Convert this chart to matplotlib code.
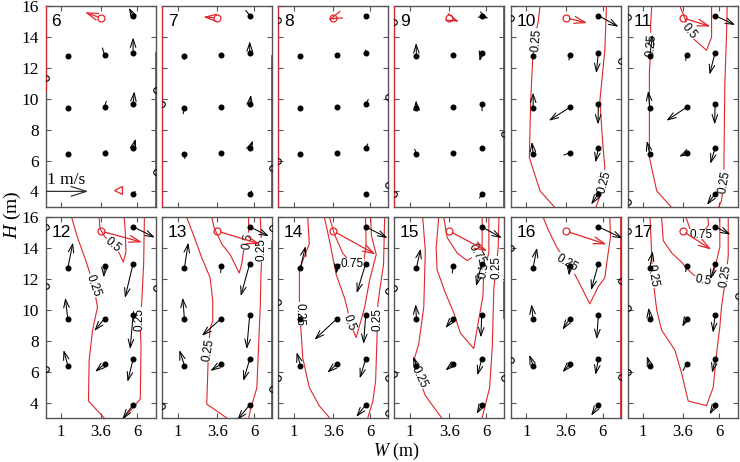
import numpy as np
import matplotlib
matplotlib.use('Agg')
import matplotlib.pyplot as plt
from matplotlib.patches import FancyArrowPatch

plt.rcParams['font.family'] = 'Liberation Serif'
plt.rcParams['mathtext.fontset'] = 'custom'
plt.rcParams['mathtext.it'] = 'Liberation Serif:italic'
plt.rcParams['mathtext.rm'] = 'Liberation Serif'

# ---- data -------------------------------------------------------------
panels = [6, 7, 8, 9, 10, 11, 12, 13, 14, 15, 16, 17]

# measuring points (W, H)
pt_x = [1.45, 3.85, 5.72, 5.72, 1.45, 3.85, 5.72, 1.45, 3.85, 5.72, 5.72]
pt_y = [12.75, 12.85, 13.0, 15.4, 9.4, 9.45, 9.65, 6.4, 6.5, 6.8, 3.85]

# velocity (m/s) at each point, one row per panel
u_vel = [
    [0.0, -0.05, 0.0, -0.1, 0.0, 0.04, 0.03, 0.0, 0.04, 0.06, 0.05],
    [-0.01, 0.0, 0.0, -0.09, -0.03, 0.0, 0.03, 0.01, 0.0, 0.08, 0.05],
    [0.0, 0.0, 0.0, -0.02, 0.0, 0.0, 0.06, 0.0, 0.0, 0.05, 0.0],
    [-0.01, 0.0, -0.05, 0.16, -0.01, 0.0, 0.01, -0.04, 0.0, 0.01, -0.05],
    [0.0, -0.02, -0.05, 0.47, 0.0, -0.49, -0.01, -0.03, -0.14, -0.07, -0.17],
    [0.06, -0.02, -0.13, 0.47, -0.04, -0.47, -0.01, -0.07, -0.17, -0.11, -0.19],
    [0.12, -0.02, -0.19, 0.51, -0.06, -0.24, -0.07, -0.1, -0.22, -0.13, -0.25],
    [0.09, -0.01, -0.21, 0.45, -0.04, -0.45, -0.07, -0.12, -0.25, -0.15, -0.29],
    [0.12, -0.02, -0.21, 0.51, 0.0, -0.53, -0.05, -0.09, -0.23, -0.14, -0.22],
    [0.1, -0.02, -0.13, 0.47, -0.02, -0.18, -0.02, -0.08, -0.18, -0.1, -0.12],
    [0.09, -0.02, -0.17, 0.57, -0.04, -0.17, -0.04, -0.09, -0.17, -0.07, -0.17],
    [0.07, -0.02, -0.11, 0.36, -0.03, -0.1, -0.05, -0.07, -0.08, -0.07, -0.13],
]
v_vel = [
    [0.0, 0.16, 0.35, 0.18, -0.03, 0.14, 0.3, 0.0, 0.05, 0.22, 0.05],
    [-0.07, 0.0, 0.26, 0.12, -0.13, 0.0, 0.22, -0.1, 0.0, 0.18, 0.06],
    [0.0, 0.0, 0.06, 0.02, -0.05, 0.0, 0.11, -0.04, 0.0, 0.1, 0.0],
    [0.31, 0.0, -0.2, -0.07, 0.18, 0.0, -0.15, 0.12, 0.0, 0.04, -0.1],
    [0.02, -0.12, -0.48, -0.26, 0.36, -0.31, -0.47, 0.29, -0.05, -0.33, -0.25],
    [0.5, -0.13, -0.51, -0.22, 0.4, -0.31, -0.47, 0.31, -0.09, -0.36, -0.26],
    [0.58, -0.26, -0.79, -0.25, 0.5, -0.29, -0.78, 0.36, -0.18, -0.52, -0.33],
    [0.58, -0.15, -0.75, -0.22, 0.5, -0.4, -0.78, 0.36, -0.16, -0.5, -0.35],
    [0.5, -0.18, -0.68, -0.26, -0.05, -0.49, -0.66, 0.31, -0.2, -0.44, -0.28],
    [0.44, -0.16, -0.52, -0.26, 0.35, -0.22, -0.51, 0.21, -0.15, -0.37, -0.21],
    [0.46, -0.22, -0.61, -0.27, 0.35, -0.26, -0.55, 0.25, -0.19, -0.36, -0.25],
    [0.38, -0.13, -0.36, -0.18, 0.27, -0.19, -0.4, 0.22, -0.15, -0.31, -0.22],
]

# inlet (red circle) and its velocity
inlet_x = [3.6] * 12
inlet_y = [15.25] * 6 + [15.12] * 6
inlet_u = [-0.37, -0.33, -0.1, 0.23, 0.5, 0.65, 0.97, 1.0, 0.99, 0.89, 0.95, 0.67]
inlet_v = [0.13, 0.02, -0.04, -0.09, -0.12, -0.2, -0.26, -0.3, -0.54, -0.47, -0.31, -0.43]

# iso-lines
contour_panel = [10, 10, 11, 11, 11, 12, 12, 12, 13, 13, 13,
                 14, 14, 14, 14, 15, 15, 15, 15, 16, 17, 17, 17]
contour_xs = [
    [1.9, 1.79, 1.6, 1.42, 1.29, 1.2, 1.9, 2.88],
    [6.25, 6.14, 5.82, 5.99, 6.14, 6.1, 5.71, 5.56],
    [1.57, 1.5, 1.52, 1.42, 1.42, 1.9, 2.88],
    [3.42, 3.75, 4.03, 4.34, 5.16, 5.49, 5.49],
    [6.51, 6.47, 6.36, 6.3, 6.3, 6.14, 5.93],
    [1.7, 2.08, 2.63, 2.95, 3.13, 3.39, 3.06, 2.84, 2.8, 3.83],
    [3.5, 3.55, 3.83, 4.38, 4.81, 5.08, 5.25, 5.21, 5.14],
    [6.46, 6.41, 6.28, 6.17, 6.24, 6.19, 5.14],
    [1.6, 2.03, 2.58, 3.13, 3.3, 3.3, 3.13, 3.02, 2.98, 2.91, 4.22],
    [3.24, 3.39, 3.9, 4.44, 5.03, 5.2, 5.32, 5.58, 5.65, 5.65],
    [6.41, 6.52, 6.46, 6.41, 6.3, 6.19, 5.75, 5.65],
    [1.93, 2.03, 1.6, 1.38, 1.38, 1.38, 1.49, 1.6, 2.03, 2.69, 3.35],
    [3.02, 3.35, 3.79, 4.33, 4.55, 4.66, 5.1, 5.65, 5.97, 6.41, 6.1, 6.04],
    [3.35, 3.68, 4.22, 4.84, 5.58, 5.75, 5.71],
    [6.96, 6.89, 6.63, 6.52, 6.46, 6.37, 6.19, 5.86],
    [1.86, 2.03, 1.93, 1.6, 1.33, 1.6, 2.03, 3.09],
    [2.91, 2.74, 2.8, 3.35, 3.9, 4.33, 5.2, 5.49, 5.8, 5.86, 6.19, 6.19],
    [3.24, 3.46, 4.11, 4.77, 5.43, 5.75, 5.75],
    [6.85, 6.8, 6.67, 6.52, 6.41, 6.24, 5.75],
    [2.11, 2.44, 2.98, 3.64, 4.18, 4.5, 5.16, 5.7, 6.14, 6.36, 6.51, 6.47],
    [1.46, 1.57, 1.6, 1.63, 1.9, 2.22, 3.09, 3.53, 3.96, 5.16, 5.6, 5.82,
     6.03, 6.14, 6.43, 6.58, 6.58],
    [2.22, 2.33, 2.88, 3.53, 3.86, 4.29, 4.95, 5.56, 5.82, 6.03, 6.03],
    [3.82, 4.1, 4.77, 5.29, 5.25],
]
contour_ys = [
    [16, 15.07, 14.1, 12.6, 9.9, 6.2, 4.03, 2.95],
    [16, 13.15, 9.9, 7.3, 5.55, 4.5, 3.38, 2.95],
    [16, 14.8, 13.4, 11.75, 6.2, 4.03, 2.95],
    [16, 15.2, 14.35, 13.86, 13.15, 14.0, 16],
    [16, 14.2, 11.0, 6.0, 4.7, 3.38, 2.95],
    [16, 14.7, 13.2, 12.2, 11.6, 10.2, 8.65, 6.7, 4.1, 3.0],
    [16, 15.3, 14.8, 14.2, 13.7, 13.1, 13.75, 15.05, 16],
    [16, 12.97, 10.37, 9.4, 7.7, 4.23, 3.0],
    [16, 14.9, 13.4, 12.1, 10.6, 9.3, 8.8, 7.4, 6.1, 3.9, 3.0],
    [16, 15.35, 14.27, 13.6, 12.4, 13.0, 13.85, 14.45, 15.14, 16],
    [16, 13.9, 12.3, 10.2, 7.6, 4.97, 3.45, 3.0],
    [16, 14.3, 13.2, 12.55, 10.9, 9.73, 8.65, 6.9, 4.97, 3.78, 3.02],
    [16, 14.5, 12.3, 10.8, 9.95, 9.2, 8.22, 10.17, 11.9, 13.6, 14.8, 16],
    [16, 14.9, 13.68, 12.98, 13.1, 14.2, 16],
    [16, 12.97, 11.24, 10.4, 8.2, 5.4, 4.1, 3.02],
    [16, 13.85, 10.2, 7.8, 6.9, 5.64, 4.45, 3.02],
    [16, 14.05, 12.6, 11.1, 9.8, 8.5, 7.5, 9.17, 10.9, 12.6, 13.7, 16],
    [16, 14.7, 13.7, 13.2, 13.63, 14.2, 16],
    [16, 14.05, 12.75, 11.45, 7.57, 4.97, 3.02],
    [16, 15.2, 14.1, 13.03, 12.3, 11.7, 10.4, 11.5, 12.1, 13.7, 14.7, 16],
    [16, 13.67, 12.7, 12.2, 10.0, 8.7, 7.4, 5.9, 4.1, 3.8, 5.0, 7.2,
     8.9, 10.2, 12.2, 13.5, 16],
    [16, 14.5, 13.7, 13.1, 12.7, 12.3, 11.9, 12.2, 13.2, 14.1, 16],
    [16, 15.2, 14.86, 15.5, 16],
]

label_panel = [10, 10, 11, 11, 11, 12, 12, 12, 13, 13, 13,
               14, 14, 14, 14, 15, 15, 15, 15, 16, 17, 17, 17, 17]
label_x = [1.68, 6.14, 1.57, 4.03, 6.36, 3.13, 4.38, 6.17, 3.02, 5.58, 6.52,
           1.38, 4.66, 4.84, 6.52, 1.6, 5.86, 5.43, 6.67, 3.64, 1.63, 6.43, 4.95, 4.77]
label_y = [13.8, 4.57, 13.5, 14.4, 4.6, 11.6, 14.2, 9.4, 7.4, 14.45, 13.9,
           9.73, 9.2, 12.98, 9.4, 5.64, 12.6, 13.63, 12.75, 13.03, 12.2, 12.2, 11.9, 14.86]
label_text = ['0.25', '0.25', '0.25', '0.5', '0.25', '0.25', '0.5', '0.25', '0.25', '0.5', '0.25',
              '0.25', '0.5', '0.75', '0.25', '0.25', '0.5', '0.75', '0.25', '0.25', '0.25', '0.25',
              '0.5', '0.75']
label_rot = [85, 75, 85, -50, 80, -70, -40, 90, 80, 80, 90,
             -90, -70, 0, 90, -65, 80, -60, 90, -30, -80, 80, -10, 0]

# iso-lines lying on the side walls
wall_panel = [6, 6, 7, 7, 8, 9, 9, 10, 13, 15, 16]
wall_x = [0, 7.2, 0, 7.2, 0, 0, 7.2, 0, 7.2, 7.2, 7.2]
wall_y0 = [10.5, 3, 3, 3, 3, 3, 3, 3, 3, 9.5, 3]
wall_y1 = [16, 13, 16, 12.8, 16, 16, 16, 16, 14.5, 11.8, 16]

# clipped labels on the walls
edge_panel = [6, 6, 6, 7, 7, 8, 8, 8, 8, 9, 9, 9, 10, 10, 11, 11,
              12, 12, 12, 12, 13, 13, 13, 14, 14, 14, 14, 14,
              15, 15, 15, 16, 16, 16, 16, 17, 17, 17, 17]
edge_x = [0, 7.2, 7.2, 0, 7.2, 0, 0, 7.2, 7.2, 0, 0, 7.2, 0, 7.2, 0, 0,
          0, 0, 0, 7.2, 0, 7.2, 7.2, 0, 0, 7.2, 7.2, 7.2,
          0, 0, 7.2, 0, 0, 7.2, 7.2, 0, 0, 0, 7.2]
edge_y = [11.35, 10.6, 5.27, 9.68, 5.5, 15.1, 6.0, 10.1, 4.4, 15.0, 3.85, 7.72, 15.27, 12.44, 15.3, 3.3,
          15.36, 11.57, 6.2, 11.43, 3.8, 4.86, 15.3, 10.5, 5.62, 11.25, 5.6, 3.3,
          11.4, 5.84, 5.6, 14.0, 6.75, 11.9, 5.66, 15.1, 10.1, 6.0, 10.9]

ref_speed = 1.0
S = 2.8  # data units per 1 m/s
red = '#e0262a'

# ---- figure -----------------------------------------------------------
fig = plt.figure(figsize=(7.4, 4.62), dpi=100)
lefts = [45.7, 162.3, 278.3, 394.3, 511.0, 627.7]
W_px, H_px = 740.0, 462.0
axes = {}
for k, p in enumerate(panels):
    col = k % 6
    row = k // 6
    top = 6.3 if row == 0 else 217.5
    ax = fig.add_axes([lefts[col] / W_px, 1 - (top + 200.5) / H_px, 110 / W_px, 200.5 / H_px])
    axes[p] = ax
    ax.set_xlim(0, 7.2)
    ax.set_ylim(3, 16)
    ax.set_xticks([1, 3.6, 6])
    ax.set_yticks(range(4, 17, 2))
    ax.tick_params(direction='in', top=True, right=True, length=3.5, width=0.8,
                   color='#555555', labelsize=12.5)
    ax.tick_params(axis='x', pad=4, labelsize=12)
    ax.tick_params(axis='y', pad=5)
    if row == 0:
        ax.set_xticklabels([])
    else:
        ax.set_xticklabels(['1', '3.6', '6'])
    if col != 0:
        ax.set_yticklabels([])
    for s in ax.spines.values():
        s.set_color('#555555')
        s.set_linewidth(1.0)
    ax.text(0.05, 0.925, str(p), transform=ax.transAxes, fontsize=12.5,
            family='Liberation Sans', ha='left', va='center', zorder=6)

# wall lines
for p, x, y0, y1 in zip(wall_panel, wall_x, wall_y0, wall_y1):
    axes[p].plot([x, x], [y0, y1], color=red, lw=1.3, zorder=3)

# contours
for p, xs, ys in zip(contour_panel, contour_xs, contour_ys):
    axes[p].plot(xs, ys, color=red, lw=0.8, zorder=2)
for p, x, y, t, r in zip(label_panel, label_x, label_y, label_text, label_rot):
    axes[p].text(x, y, t, rotation=r, fontsize=8.5, family='Liberation Sans',
                 ha='center', va='center', rotation_mode='anchor', zorder=3,
                 bbox=dict(facecolor='white', edgecolor='none', pad=0.3))

# wall marks
for p, x, y in zip(edge_panel, edge_x, edge_y):
    axes[p].plot(x, y, 'o', mfc='none', mec='k', ms=4, mew=0.8, zorder=4)


def arrow(ax, x, y, u, v, color, lw=0.75, hl=0.6, hw=0.2):
    L = np.hypot(u, v)
    if L < 1e-6:
        return
    if L < 0.17:
        style = '-'
    else:
        style = '->,head_length=%g,head_width=%g' % (hl, hw)
    a = FancyArrowPatch((x, y), (x + u * S, y + v * S), arrowstyle=style,
                        mutation_scale=10, color=color, lw=lw,
                        shrinkA=0, shrinkB=0, zorder=5)
    ax.add_patch(a)


for k, p in enumerate(panels):
    ax = axes[p]
    for i in range(len(pt_x)):
        arrow(ax, pt_x[i], pt_y[i], u_vel[k][i], v_vel[k][i], 'k')
    ax.plot(pt_x, pt_y, 'o', color='k', ms=3.3, zorder=6)
    # inlet
    ax.plot(inlet_x[k], inlet_y[k], 'o', mfc='none', mec=red, ms=5, mew=0.9, zorder=6)
    a = FancyArrowPatch((inlet_x[k], inlet_y[k]),
                        (inlet_x[k] + inlet_u[k] * S, inlet_y[k] + inlet_v[k] * S),
                        arrowstyle='->,head_length=0.8,head_width=0.25', mutation_scale=10,
                        color=red, lw=0.9, shrinkA=2.5, shrinkB=0, zorder=5)
    ax.add_patch(a)

# reference arrow and outlet mark in panel 6
ax6 = axes[6]
ax6.add_patch(FancyArrowPatch((0, 4.0), (ref_speed * S, 4.0),
                              arrowstyle='->,head_length=1.1,head_width=0.35',
                              mutation_scale=10, color='#333333', lw=0.9,
                              shrinkA=0, shrinkB=0, zorder=5))
ax6.text(0.1, 4.25, '1 m/s', fontsize=12.5, ha='left', va='bottom')
ax6.plot(4.75, 4.08, '<', mfc='none', mec=red, ms=6, mew=0.9, zorder=5)

fig.text(12 / W_px, 1 - 215 / H_px, '$H$ (m)', rotation=90, fontsize=14,
         ha='center', va='center')
fig.text(396 / W_px, 1 - 451 / H_px, '$W$ (m)', fontsize=13, ha='center', va='center')

fig.savefig('out.png', dpi=100)
